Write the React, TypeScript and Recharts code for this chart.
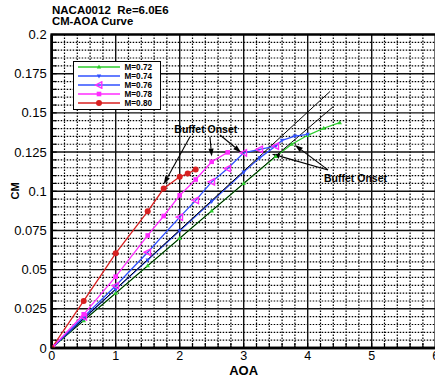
import {
  CartesianGrid,
  ComposedChart,
  Line,
  ReferenceArea,
  ReferenceLine,
  XAxis,
  YAxis,
} from 'recharts'

const FONT = '"Liberation Sans", Arial, Helvetica, sans-serif'

// Mach 0.72
const aoa72 = [0, 0.5, 1, 1.5, 2, 2.5, 3, 3.5, 3.75, 4, 4.25, 4.5]
const cm72 = [0, 0.0175, 0.035, 0.0525, 0.07, 0.0875, 0.105, 0.1222, 0.13, 0.1357, 0.1402, 0.1438]
// Mach 0.74
const aoa74 = [0, 0.5, 1, 1.5, 2, 2.5, 3, 3.25, 3.5, 3.6, 3.8, 4]
const cm74 = [0, 0.0187, 0.0374, 0.0561, 0.0748, 0.0935, 0.1122, 0.1213, 0.1288, 0.1325, 0.1352, 0.1363]
// Mach 0.76
const aoa76 = [0, 0.5, 1, 1.5, 2, 2.25, 2.5, 2.75, 3, 3.25, 3.5]
const cm76 = [0, 0.0198, 0.0397, 0.0611, 0.0835, 0.0942, 0.106, 0.1145, 0.1245, 0.1267, 0.1288]
// Mach 0.78
const aoa78 = [0, 0.5, 1, 1.5, 1.75, 2, 2.25, 2.5, 2.75]
const cm78 = [0, 0.0215, 0.0455, 0.0718, 0.0842, 0.0974, 0.1075, 0.1188, 0.1248]
// Mach 0.80
const aoa80 = [0, 0.5, 1, 1.5, 1.75, 2, 2.125, 2.25]
const cm80 = [0, 0.03, 0.0604, 0.0872, 0.1017, 0.1092, 0.1113, 0.1139]

// linear-slope guide lines from the origin
const aoaGuideA = [0, 4.35]
const cmGuideA = [0, 0.1637]
const aoaGuideB = [0, 4.4]
const cmGuideB = [0, 0.154]

// buffet onset arrows: [tailAoa, tailCm, tipAoa, tipCm]
const onsetUpper = [
  [2.161, 0.1347, 1.75, 0.1045],
  [2.473, 0.1347, 2.5, 0.1221],
  [2.63, 0.1359, 2.96, 0.1248],
]
const onsetLower = [
  [4.317, 0.1136, 3.44, 0.1238],
  [4.317, 0.1136, 3.8, 0.1295],
]

const xMajor = [0, 1, 2, 3, 4, 5, 6]
const yMajor = [0, 0.025, 0.05, 0.075, 0.1, 0.125, 0.15, 0.175, 0.2]

const xMinorAll: number[] = []
for (let i = 0; i <= 30; i++) xMinorAll.push(Number((i * 0.2).toFixed(1)))
const yMinorAll: number[] = []
for (let i = 0; i <= 40; i++) yMinorAll.push(Number((i * 0.005).toFixed(3)))

const isIn = (list: number[], v: number) => list.some((m) => Math.abs(m - v) < 1e-9)
const xMinor = xMinorAll.filter((v) => !isIn(xMajor, v))
const yMinor = yMinorAll.filter((v) => !isIn(yMajor, v))
const xGrid = xMajor.slice(1, -1)
const yGrid = yMajor.slice(1, -1)

const toPoints = (xs: number[], ys: number[]) => xs.map((x, i) => ({ aoa: x, cm: ys[i] }))

const COLORS = {
  m72: '#2ccc2c',
  m74: '#3050ff',
  m76: '#3050ff',
  m78: '#ff2cff',
  m80: '#d82020',
}

function TriUp({ cx, cy, color }: { cx: number; cy: number; color: string }) {
  return <polygon points={`${cx},${cy - 2.5} ${cx - 2.2},${cy + 1.6} ${cx + 2.2},${cy + 1.6}`} fill={color} />
}
function TriDown({ cx, cy, color }: { cx: number; cy: number; color: string }) {
  return <polygon points={`${cx},${cy + 2.5} ${cx - 2.2},${cy - 1.6} ${cx + 2.2},${cy - 1.6}`} fill={color} />
}
function TriLeft({ cx, cy, color }: { cx: number; cy: number; color: string }) {
  return (
    <polygon
      points={`${cx - 3.5},${cy} ${cx + 2.8},${cy - 3.2} ${cx + 2.8},${cy + 3.2}`}
      fill="none"
      stroke={color}
      strokeWidth={1.4}
    />
  )
}
function Square({ cx, cy, color }: { cx: number; cy: number; color: string }) {
  return <rect x={cx - 2.3} y={cy - 2.3} width={4.6} height={4.6} fill={color} />
}
function Circle({ cx, cy, color }: { cx: number; cy: number; color: string }) {
  return <circle cx={cx} cy={cy} r={3} fill={color} />
}

const dotOf = (Shape: typeof Circle, color: string) => (p: any) =>
  <Shape key={`d-${p.index}`} cx={p.cx} cy={p.cy} color={color} />

function XTick({ x, y, payload }: any) {
  const v = payload.value
  return (
    <g>
      <line x1={x} x2={x} y1={y} y2={y - 5} stroke="#000" strokeWidth={1.2} />
      {isIn(xMajor, v) && (
        <text x={x} y={y + 3} dy="0.71em" textAnchor="middle" fontSize={12.5} fontFamily={FONT} fill="#000">
          {String(v)}
        </text>
      )}
    </g>
  )
}

function YTick({ x, y, payload }: any) {
  const v = payload.value
  return (
    <g>
      <line x1={x} x2={x + 5} y1={y} y2={y} stroke="#000" strokeWidth={1.2} />
      {isIn(yMajor, v) && (
        <text x={x - 5} y={y} dy="0.355em" textAnchor="end" fontSize={13} fontFamily={FONT} fill="#000">
          {String(v)}
        </text>
      )}
    </g>
  )
}

function Arrow(props: any) {
  const { x1, y1, x2, y2 } = props
  const ang = Math.atan2(y2 - y1, x2 - x1)
  const len = 8
  const half = 2.6
  const bx = x2 - len * Math.cos(ang)
  const by = y2 - len * Math.sin(ang)
  const px = -Math.sin(ang) * half
  const py = Math.cos(ang) * half
  return (
    <g>
      <line x1={x1} y1={y1} x2={bx} y2={by} stroke="#000" strokeWidth={1.1} />
      <polygon points={`${x2},${y2} ${bx + px},${by + py} ${bx - px},${by - py}`} fill="#000" />
    </g>
  )
}

const LEGEND = [
  { label: 'M=0.72', color: COLORS.m72, marker: TriUp, markerColor: COLORS.m72 },
  { label: 'M=0.74', color: COLORS.m74, marker: TriDown, markerColor: COLORS.m74 },
  { label: 'M=0.76', color: COLORS.m76, marker: TriLeft, markerColor: COLORS.m78 },
  { label: 'M=0.78', color: COLORS.m78, marker: Square, markerColor: COLORS.m78 },
  { label: 'M=0.80', color: COLORS.m80, marker: Circle, markerColor: COLORS.m80 },
]

const textBold = { position: 'absolute' as const, fontFamily: FONT, fontWeight: 700, lineHeight: 1, color: '#000', whiteSpace: 'nowrap' as const }

export default function App() {
  return (
    <div style={{ position: 'absolute', left: 0, top: 0, width: 435, height: 377, overflow: 'hidden', background: '#fff' }}>
      <ComposedChart width={440} height={377} margin={{ top: 34.5, right: 4.3, bottom: 9, left: 7.7 }}>
        <CartesianGrid horizontalValues={yMinor} verticalValues={xMinor} stroke="#000" strokeDasharray="1.5 1.5" strokeWidth={1.2} />
        <CartesianGrid horizontalValues={yGrid} verticalValues={xGrid} stroke="#111" strokeWidth={1.4} />
        <XAxis
          dataKey="aoa"
          type="number"
          domain={[0, 6]}
          ticks={xMinorAll}
          interval={0}
          height={20}
          tickSize={0}
          tickMargin={0}
          tick={<XTick />}
          axisLine={{ stroke: '#000', strokeWidth: 2.5 }}
          allowDataOverflow
        />
        <YAxis
          dataKey="cm"
          type="number"
          domain={[0, 0.2]}
          ticks={yMinorAll}
          interval={0}
          width={44}
          tickSize={0}
          tickMargin={0}
          tick={<YTick />}
          axisLine={{ stroke: '#000', strokeWidth: 2.5 }}
          allowDataOverflow
        />
        <ReferenceArea x1={0} x2={6} y1={0} y2={0.2} fill="none" stroke="#000" strokeWidth={2.5} />

        <Line data={toPoints(aoa72, cm72)} dataKey="cm" stroke={COLORS.m72} strokeWidth={1.3} dot={dotOf(TriUp, COLORS.m72)} isAnimationActive={false} />
        <Line data={toPoints(aoaGuideB, cmGuideB)} dataKey="cm" stroke="#000" strokeWidth={1} dot={false} isAnimationActive={false} />
        <Line data={toPoints(aoa74, cm74)} dataKey="cm" stroke={COLORS.m74} strokeWidth={1.3} dot={dotOf(TriDown, COLORS.m74)} isAnimationActive={false} />
        <Line data={toPoints(aoaGuideA, cmGuideA)} dataKey="cm" stroke="#000" strokeWidth={1} dot={false} isAnimationActive={false} />
        <Line data={toPoints(aoa76, cm76)} dataKey="cm" stroke={COLORS.m76} strokeWidth={1.3} dot={dotOf(TriLeft, COLORS.m78)} isAnimationActive={false} />
        <Line data={toPoints(aoa78, cm78)} dataKey="cm" stroke={COLORS.m78} strokeWidth={1.3} dot={dotOf(Square, COLORS.m78)} isAnimationActive={false} />
        <Line data={toPoints(aoa80, cm80)} dataKey="cm" stroke={COLORS.m80} strokeWidth={1.3} dot={dotOf(Circle, COLORS.m80)} isAnimationActive={false} />

        {[...onsetUpper, ...onsetLower].map(([ta, tc, ha, hc], i) => (
          <ReferenceLine
            key={`arrow-${i}`}
            segment={[{ x: ta, y: tc }, { x: ha, y: hc }]}
            shape={Arrow}
          />
        ))}
      </ComposedChart>

      <div style={{ ...textBold, left: 52, top: 5.2, fontSize: 11.5 }}>NACA0012&nbsp; Re=6.0E6</div>
      <div style={{ ...textBold, left: 52, top: 15.8, fontSize: 11.3 }}>CM-AOA Curve</div>
      <div style={{ ...textBold, left: 223.7, top: 364, width: 40, textAlign: 'center', fontSize: 13 }}>AOA</div>
      <div style={{ ...textBold, left: -3.7, top: 184.5, width: 40, height: 12, textAlign: 'center', fontSize: 11, transform: 'rotate(-90deg)' }}>CM</div>
      <div style={{ ...textBold, left: 174.3, top: 123.6, fontSize: 10.5 }}>Buffet Onset</div>
      <div style={{ ...textBold, left: 324, top: 173, fontSize: 10.5 }}>Buffet Onset</div>

      <div
        style={{
          position: 'absolute',
          left: 72.5,
          top: 61,
          width: 86,
          height: 46,
          border: '1.5px solid #000',
          background: '#fff',
          padding: '0.5px 0 0 0',
        }}
      >
        {LEGEND.map((item) => {
          const Marker = item.marker
          return (
            <div key={item.label} style={{ display: 'flex', alignItems: 'center', height: 9 }}>
              <svg width={47} height={8} style={{ marginLeft: 3 }}>
                <line x1={1} x2={43} y1={4} y2={4} stroke={item.color} strokeWidth={1.4} />
                <Marker cx={22} cy={4} color={item.markerColor} />
              </svg>
              <span style={{ fontFamily: FONT, fontWeight: 700, fontSize: 8.2, lineHeight: '9px', marginLeft: 1 }}>
                {item.label}
              </span>
            </div>
          )
        })}
      </div>
    </div>
  )
}
